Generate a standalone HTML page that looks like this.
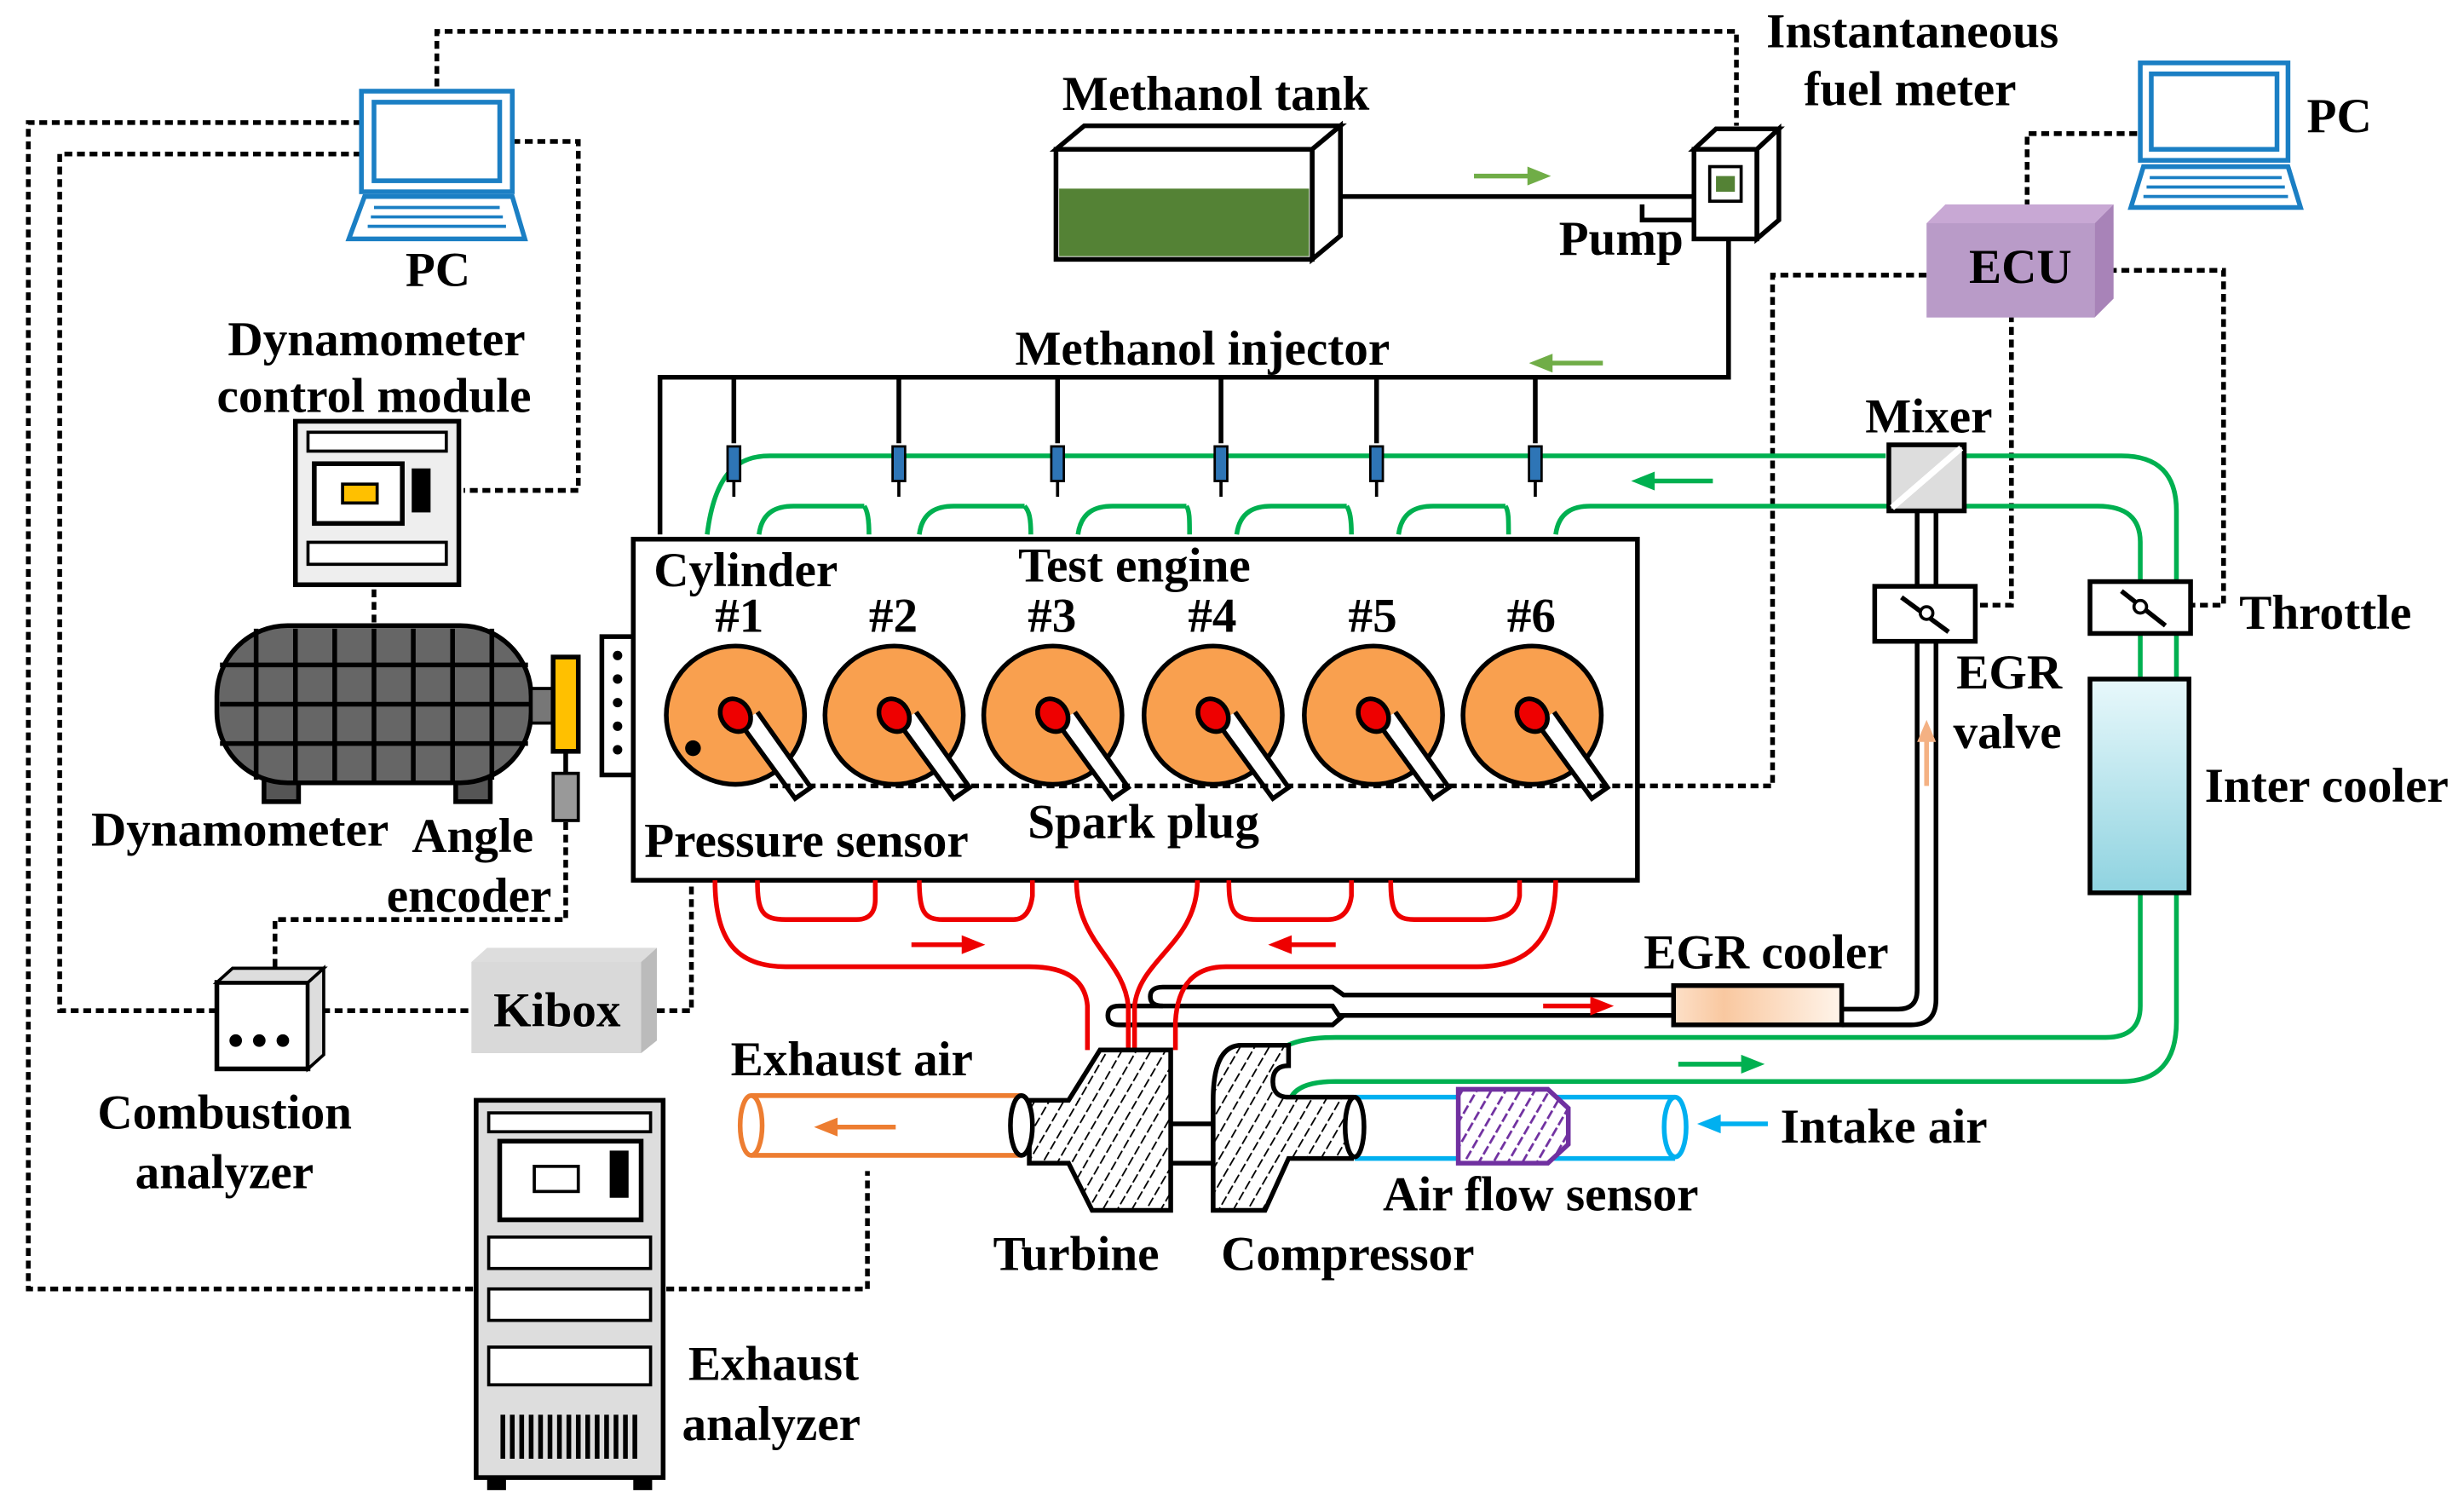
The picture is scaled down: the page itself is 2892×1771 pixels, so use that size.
<!DOCTYPE html>
<html><head><meta charset="utf-8"><style>
html,body{margin:0;padding:0;background:#fff}
svg{display:block}
text{font-family:"Liberation Serif",serif;font-weight:bold;font-size:31px;fill:#000}
</style></head><body>
<svg width="2892" height="1771" viewBox="0 0 1568 960" preserveAspectRatio="none" xmlns="http://www.w3.org/2000/svg">
<defs>
<pattern id="hatch" width="8" height="8" patternUnits="userSpaceOnUse" patternTransform="rotate(30)">
<rect width="8" height="8" fill="#fff"/><line x1="0" y1="0" x2="0" y2="8" stroke="#000" stroke-width="2" stroke-dasharray="3 2"/></pattern>
<pattern id="phatch" width="8" height="8" patternUnits="userSpaceOnUse" patternTransform="rotate(30)">
<rect width="8" height="8" fill="#fff"/><line x1="0" y1="0" x2="0" y2="8" stroke="#7030a0" stroke-width="3" stroke-dasharray="4 2"/></pattern>
<linearGradient id="ic" x1="0" y1="0" x2="0" y2="1"><stop offset="0" stop-color="#e8f8fb"/><stop offset="1" stop-color="#8fd3e0"/></linearGradient>
<linearGradient id="egr" x1="0" y1="0" x2="1" y2="0"><stop offset="0" stop-color="#fde0c8"/><stop offset="0.3" stop-color="#f9c8a0"/><stop offset="1" stop-color="#fff4ea"/></linearGradient>
</defs>
<g fill="none" stroke="#000" stroke-width="3" stroke-dasharray="5 3">
<path d="M278 55V20H1105V80"/>
<path d="M230 78H18V820H552V745"/>
<path d="M230 98H38V643H140"/>
<path d="M326 90H368V312H295"/>
<path d="M205 643H300"/>
<path d="M418 643H440V470"/>
<path d="M175 615V585H360V523"/>
<path d="M238 375V400"/>
<path d="M1226 175H1128V500H490"/>
<path d="M1342 172H1415V385H1395"/>
<path d="M1280 200V385H1258"/>
<path d="M1290 132V85H1362"/>
</g>
<g stroke="#1b7fc4" stroke-width="3" fill="#fff">
<rect x="230" y="58" width="96" height="64"/><rect x="238" y="65" width="80" height="50"/>
<path d="M232 125H326L334 152H222Z"/>
<path d="M238 132H318M236 138H320M234 144H322" stroke-width="2"/>
<rect x="1362" y="40" width="94" height="62"/><rect x="1369" y="47" width="80" height="48"/>
<path d="M1364 106H1456L1464 132H1356Z"/>
<path d="M1368 113H1452M1366 119H1454M1364 125H1456" stroke-width="2"/>
</g>
<text x="258" y="182">PC</text>
<text x="1468" y="84">PC</text>
<text x="145" y="226">Dynamometer</text>
<text x="138" y="262">control module</text>
<rect x="188" y="268" width="104" height="104" fill="#eee" stroke="#000" stroke-width="3"/>
<rect x="196" y="275" width="88" height="12" fill="#fff" stroke="#000" stroke-width="2"/>
<rect x="200" y="295" width="56" height="38" fill="#fff" stroke="#000" stroke-width="3"/>
<rect x="218" y="308" width="22" height="12" fill="#ffc000" stroke="#000" stroke-width="2"/>
<rect x="262" y="298" width="12" height="28" fill="#000"/>
<rect x="196" y="345" width="88" height="14" fill="#fff" stroke="#000" stroke-width="2"/>
<rect x="168" y="485" width="22" height="25" fill="#555" stroke="#000" stroke-width="3"/>
<rect x="290" y="485" width="22" height="25" fill="#555" stroke="#000" stroke-width="3"/>
<rect x="138" y="398" width="200" height="100" rx="45" fill="#666" stroke="#000" stroke-width="3"/>
<g stroke="#000" stroke-width="3"><path d="M163 400V496M188 400V498M213 400V498M238 400V498M263 400V498M288 400V498M313 400V496M140 423H336M140 448H338M140 473H336"/></g>
<rect x="338" y="438" width="14" height="22" fill="#777" stroke="#000" stroke-width="2"/>
<rect x="352" y="418" width="16" height="60" fill="#ffc000" stroke="#000" stroke-width="3"/>
<rect x="383" y="405" width="20" height="88" fill="#fff" stroke="#000" stroke-width="3"/>
<g fill="#000"><circle cx="393" cy="417" r="3"/><circle cx="393" cy="432" r="3"/><circle cx="393" cy="447" r="3"/><circle cx="393" cy="462" r="3"/><circle cx="393" cy="477" r="3"/></g>
<path d="M360 478V492" stroke="#000" stroke-width="3"/>
<rect x="352" y="492" width="16" height="30" fill="#999" stroke="#000" stroke-width="2"/>
<text x="58" y="538">Dynamometer</text>
<text x="262" y="542">Angle</text>
<text x="246" y="580">encoder</text>
<rect x="138" y="625" width="58" height="55" fill="#fff" stroke="#000" stroke-width="3"/>
<path d="M138 625L148 616H206L196 625ZM196 625L206 616V671L196 680Z" fill="#ddd" stroke="#000" stroke-width="2"/>
<g fill="#000"><circle cx="150" cy="662" r="4"/><circle cx="165" cy="662" r="4"/><circle cx="180" cy="662" r="4"/></g>
<text x="62" y="718">Combustion</text>
<text x="86" y="756">analyzer</text>
<path d="M300 612L310 603H418L408 612Z" fill="#ddd"/>
<path d="M408 612L418 603V662L408 670Z" fill="#bbb"/>
<rect x="300" y="612" width="108" height="58" fill="#d9d9d9"/>
<text x="314" y="653">Kibox</text>
<rect x="303" y="700" width="119" height="240" fill="#ddd" stroke="#000" stroke-width="3"/>
<rect x="311" y="708" width="103" height="12" fill="#fff" stroke="#000" stroke-width="2"/>
<rect x="318" y="726" width="90" height="50" fill="#fff" stroke="#000" stroke-width="3"/>
<rect x="340" y="742" width="28" height="16" fill="#fff" stroke="#000" stroke-width="2"/>
<rect x="388" y="732" width="12" height="30" fill="#000"/>
<rect x="311" y="787" width="103" height="20" fill="#fff" stroke="#000" stroke-width="2"/>
<rect x="311" y="820" width="103" height="20" fill="#fff" stroke="#000" stroke-width="2"/>
<rect x="311" y="857" width="103" height="24" fill="#fff" stroke="#000" stroke-width="2"/>
<path d="M320 900V928M326 900V928M332 900V928M338 900V928M344 900V928M350 900V928M356 900V928M362 900V928M368 900V928M374 900V928M380 900V928M386 900V928M392 900V928M398 900V928M404 900V928" stroke="#000" stroke-width="3"/>
<rect x="310" y="940" width="12" height="8" fill="#000"/><rect x="403" y="940" width="12" height="8" fill="#000"/>
<text x="438" y="878">Exhaust</text>
<text x="434" y="916">analyzer</text>
<path d="M672 95L690 80H853L835 95Z" fill="#fff" stroke="#000" stroke-width="3"/>
<path d="M835 95L853 80V150L835 165Z" fill="#fff" stroke="#000" stroke-width="3"/>
<rect x="672" y="95" width="163" height="70" fill="#fff" stroke="#000" stroke-width="3"/>
<rect x="674" y="120" width="159" height="43" fill="#548235"/>
<text x="676" y="70">Methanol tank</text>
<path d="M853 125H1080M1045 130V140H1080" fill="none" stroke="#000" stroke-width="3"/>
<path d="M938 112H975" stroke="#70ad47" stroke-width="3"/><path d="M972 106L987 112L972 118Z" fill="#70ad47"/>
<path d="M1078 95L1092 82H1132L1118 95Z" fill="#fff" stroke="#000" stroke-width="3"/>
<path d="M1118 95L1132 82V140L1118 152Z" fill="#fff" stroke="#000" stroke-width="3"/>
<rect x="1078" y="95" width="40" height="57" fill="#fff" stroke="#000" stroke-width="3"/>
<rect x="1088" y="106" width="20" height="22" fill="#fff" stroke="#000" stroke-width="2"/>
<rect x="1092" y="112" width="12" height="10" fill="#548235"/>
<text x="1124" y="30">Instantaneous</text>
<text x="1148" y="67">fuel meter</text>
<text x="992" y="162">Pump</text>
<path d="M1100 152V240H420V340" fill="none" stroke="#000" stroke-width="3"/>
<path d="M985 231H1020" stroke="#70ad47" stroke-width="3"/><path d="M988 225L973 231L988 237Z" fill="#70ad47"/>
<text x="646" y="232">Methanol injector</text>
<path d="M1226 142L1238 130H1345L1333 142Z" fill="#c8a8d4"/>
<path d="M1333 142L1345 130V190L1333 202Z" fill="#a883b8"/>
<rect x="1226" y="142" width="107" height="60" fill="#b99bc8"/>
<text x="1253" y="180">ECU</text>
<g fill="none" stroke="#00b050" stroke-width="3">
<path d="M450 340C455 300 470 290 490 290H1200"/>
<path d="M1250 290H1350Q1385 290 1385 325V650Q1385 688 1350 688H850Q820 688 820 705"/>
<path d="M483 340C485 325 495 322 505 322H550M585 340C587 325 597 322 607 322H652M686 340C688 325 698 322 708 322H755M787 340C789 325 799 322 809 322H857M890 340C892 325 902 322 912 322H958"/>
<path d="M553 340C553 330 552 325 550 322M656 340C656 330 655 325 652 322M757 340C757 330 757 325 755 322M860 340C860 330 859 325 857 322M960 340C960 330 960 325 958 322"/>
<path d="M990 340C992 325 1002 322 1012 322H1335Q1362 322 1362 345V370M1362 403V432M1362 568V640Q1362 660 1340 660H850Q822 660 812 670"/>
</g>
<path d="M1050 306H1090" stroke="#00b050" stroke-width="3"/><path d="M1053 300L1038 306L1053 312Z" fill="#00b050"/>
<path d="M1068 677H1110" stroke="#00b050" stroke-width="3"/><path d="M1108 671L1123 677L1108 683Z" fill="#00b050"/>
<g stroke="#000" stroke-width="3">
<path d="M467 240V282M572 240V282M673 240V282M777 240V282M876 240V282M977 240V282"/>
</g>
<g fill="#2e75b6" stroke="#000" stroke-width="1.5">
<rect x="463" y="284" width="8" height="22"/><rect x="568" y="284" width="8" height="22"/><rect x="669" y="284" width="8" height="22"/>
<rect x="773" y="284" width="8" height="22"/><rect x="872" y="284" width="8" height="22"/><rect x="973" y="284" width="8" height="22"/>
</g>
<g stroke="#000" stroke-width="2"><path d="M467 306V316M572 306V316M673 306V316M777 306V316M876 306V316M977 306V316"/></g>
<rect x="1202" y="283" width="48" height="42" fill="#ddd" stroke="#000" stroke-width="3"/>
<path d="M1204 323L1248 285" stroke="#fff" stroke-width="4"/>
<text x="1187" y="275">Mixer</text>
<path d="M1220 325V373M1232 325V373" stroke="#000" stroke-width="3"/>
<rect x="1193" y="373" width="64" height="35" fill="#fff" stroke="#000" stroke-width="3"/>
<path d="M1210 380L1240 402" stroke="#000" stroke-width="3"/><circle cx="1226" cy="390" r="4" fill="#fff" stroke="#000" stroke-width="2"/>
<text x="1245" y="438">EGR</text>
<text x="1243" y="476">valve</text>
<path d="M1220 408V630Q1220 642 1208 642H1172M1232 408V636Q1232 652 1216 652H1172" fill="none" stroke="#000" stroke-width="3"/>
<path d="M1226 500V470" stroke="#f4b183" stroke-width="3"/><path d="M1220 472L1226 458L1232 472Z" fill="#f4b183"/>
<rect x="1065" y="627" width="107" height="25" fill="url(#egr)" stroke="#000" stroke-width="3"/>
<text x="1046" y="616">EGR cooler</text>
<path d="M1065 633H855L848 628H740Q732 628 732 634Q732 640 740 640H848L852 646H1065" fill="none" stroke="#000" stroke-width="3"/>
<path d="M1065 646H855L848 652H712Q705 652 705 646Q705 640 712 640H740" fill="none" stroke="#000" stroke-width="3"/>
<path d="M982 640H1015" stroke="#e00" stroke-width="3"/><path d="M1012 634L1027 640L1012 646Z" fill="#e00"/>
<rect x="1330" y="370" width="64" height="33" fill="#fff" stroke="#000" stroke-width="3"/>
<path d="M1350 376L1378 398" stroke="#000" stroke-width="3"/><circle cx="1362" cy="386" r="4" fill="#fff" stroke="#000" stroke-width="2"/>
<text x="1425" y="400">Throttle</text>
<rect x="1330" y="432" width="63" height="136" fill="url(#ic)" stroke="#000" stroke-width="3"/>
<text x="1403" y="510">Inter cooler</text>
<rect x="403" y="343" width="639" height="217" fill="#fff" stroke="#000" stroke-width="3"/>
<text x="416" y="373">Cylinder</text>
<text x="648" y="370">Test engine</text>
<g stroke="#000" stroke-width="3">
<g transform="translate(468,455)"><circle r="44" fill="#f9a04f"/><path d="M3 5L38 53L48 46L14 -2" fill="#fff"/><ellipse cx="0" cy="0" rx="9" ry="11" transform="rotate(-35)" fill="#e00"/></g>
<g transform="translate(569,455)"><circle r="44" fill="#f9a04f"/><path d="M3 5L38 53L48 46L14 -2" fill="#fff"/><ellipse cx="0" cy="0" rx="9" ry="11" transform="rotate(-35)" fill="#e00"/></g>
<g transform="translate(670,455)"><circle r="44" fill="#f9a04f"/><path d="M3 5L38 53L48 46L14 -2" fill="#fff"/><ellipse cx="0" cy="0" rx="9" ry="11" transform="rotate(-35)" fill="#e00"/></g>
<g transform="translate(772,455)"><circle r="44" fill="#f9a04f"/><path d="M3 5L38 53L48 46L14 -2" fill="#fff"/><ellipse cx="0" cy="0" rx="9" ry="11" transform="rotate(-35)" fill="#e00"/></g>
<g transform="translate(874,455)"><circle r="44" fill="#f9a04f"/><path d="M3 5L38 53L48 46L14 -2" fill="#fff"/><ellipse cx="0" cy="0" rx="9" ry="11" transform="rotate(-35)" fill="#e00"/></g>
<g transform="translate(975,455)"><circle r="44" fill="#f9a04f"/><path d="M3 5L38 53L48 46L14 -2" fill="#fff"/><ellipse cx="0" cy="0" rx="9" ry="11" transform="rotate(-35)" fill="#e00"/></g>
</g>
<path d="M490 500H1042" stroke="#000" stroke-width="3" stroke-dasharray="5 3" fill="none"/>
<circle cx="441" cy="476" r="5" fill="#000"/>
<text x="455" y="402">#1</text><text x="553" y="402">#2</text><text x="654" y="402">#3</text>
<text x="756" y="402">#4</text><text x="858" y="402">#5</text><text x="959" y="402">#6</text>
<text x="410" y="545">Pressure sensor</text>
<text x="654" y="533">Spark plug</text>
<g fill="none" stroke="#e00" stroke-width="3">
<path d="M455 560C455 600 470 615 500 615H655Q690 615 692 640V668"/>
<path d="M482 560C482 580 485 585 500 585H545Q557 585 557 572V560"/>
<path d="M585 560C585 580 588 585 600 585H645Q655 585 657 570V560"/>
<path d="M685 560C685 600 715 610 718 640V668M762 560C762 600 725 610 722 640V668"/>
<path d="M782 560C782 580 785 585 800 585H845Q858 585 860 570V560"/>
<path d="M885 560C885 580 888 585 900 585H945Q965 585 967 570V560"/>
<path d="M990 560C990 600 970 615 940 615H780Q750 615 748 650V668"/>
</g>
<path d="M580 601H615" stroke="#e00" stroke-width="3"/><path d="M612 595L627 601L612 607Z" fill="#e00"/>
<path d="M820 601H850" stroke="#e00" stroke-width="3"/><path d="M822 595L807 601L822 607Z" fill="#e00"/>
<path d="M700 668H745V770H695L680 740H655V700H680Z" fill="url(#hatch)" stroke="#000" stroke-width="3"/>
<path d="M745 715H772M745 740H772" stroke="#000" stroke-width="3"/>
<path d="M790 665Q772 665 772 700V770H805L820 737H860V698H820Q810 698 810 688Q810 678 820 678V665Z" fill="url(#hatch)" stroke="#000" stroke-width="3"/>
<text x="632" y="808">Turbine</text>
<text x="777" y="808">Compressor</text>
<path d="M650 697H478M650 735H478" stroke="#ed7d31" stroke-width="3"/>
<ellipse cx="478" cy="716" rx="7" ry="19" fill="#fff" stroke="#ed7d31" stroke-width="3"/>
<ellipse cx="650" cy="716" rx="7" ry="19" fill="#fff" stroke="#000" stroke-width="3"/>
<path d="M530 717H570" stroke="#ed7d31" stroke-width="3"/><path d="M533 711L518 717L533 723Z" fill="#ed7d31"/>
<text x="465" y="684">Exhaust air</text>
<path d="M862 698H1066M862 737H1066" stroke="#00b0f0" stroke-width="3"/>
<ellipse cx="1066" cy="717" rx="7" ry="19" fill="#fff" stroke="#00b0f0" stroke-width="3"/>
<ellipse cx="862" cy="717" rx="6" ry="19" fill="#fff" stroke="#000" stroke-width="3"/>
<path d="M928 693H985L998 705V728L985 740H928Z" fill="url(#phatch)" stroke="#7030a0" stroke-width="3"/>
<path d="M1093 715H1125" stroke="#00b0f0" stroke-width="3"/><path d="M1095 709L1080 715L1095 721Z" fill="#00b0f0"/>
<text x="1133" y="727">Intake air</text>
<text x="880" y="770">Air flow sensor</text>
</svg>
</body></html>
